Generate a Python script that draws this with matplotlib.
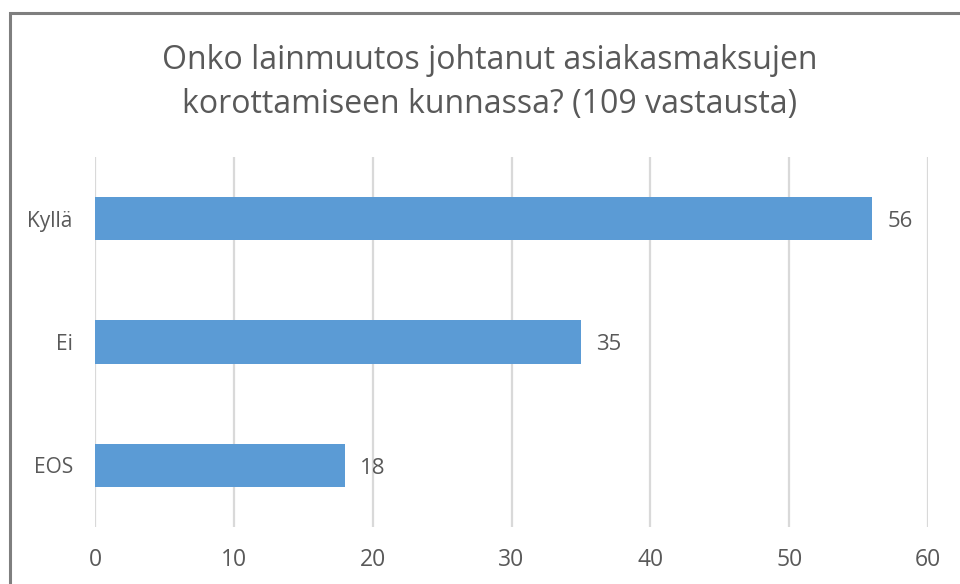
import matplotlib
matplotlib.use("Agg")
import matplotlib.pyplot as plt
from matplotlib.patches import Rectangle

categories = ["Kyllä", "Ei", "EOS"]
values = [56, 35, 18]
xticks = [0, 10, 20, 30, 40, 50, 60]
title = "Onko lainmuutos johtanut asiakasmaksujen\nkorottamiseen kunnassa? (109 vastausta)"

plt.rcParams['font.family'] = ['Open Sans', 'DejaVu Sans']
text_color = "#595959"
bar_color = "#5B9BD5"
grid_color = "#D9D9D9"

W, H = 960, 584
fig = plt.figure(figsize=(W/100, H/100), dpi=100)
fig.patch.set_facecolor("white")

# outer border (extends off the right and bottom edges)
fig.patches.append(Rectangle((9.5/W, -0.1), 1.2, 1 - 13/H + 0.1, transform=fig.transFigure,
                             fill=False, edgecolor="#7F7F7F", linewidth=2.2))

ax = fig.add_axes([95/W, 1 - 527/H, (928-95)/W, (527-157)/H])
pos = list(range(len(categories)))
ax.barh(pos, values, height=0.35, color=bar_color, zorder=3)
ax.set_ylim(2.5, -0.5)
ax.set_xlim(0, 60)
ax.set_xticks(xticks)
ax.set_xticklabels([str(t) for t in xticks])
ax.set_yticks(pos)
ax.set_yticklabels(categories)
ax.tick_params(axis='x', length=0, pad=15, labelsize=16.5, labelcolor=text_color)
ax.tick_params(axis='y', length=0, pad=16, labelsize=15, labelcolor=text_color)
ax.grid(axis='x', color=grid_color, linewidth=1.6, zorder=0)
for s in ax.spines.values():
    s.set_visible(False)
ax.set_facecolor("none")

for p, v in zip(pos, values):
    ax.annotate(str(v), (v, p), xytext=(11, -2), textcoords="offset points",
                va="center", ha="left", fontsize=16, color=text_color)

fig.text(490/W, 1 - 82.5/H, title, ha="center", va="center", fontsize=23,
         color=text_color, linespacing=1.42)

fig.savefig("out.png", dpi=100)
